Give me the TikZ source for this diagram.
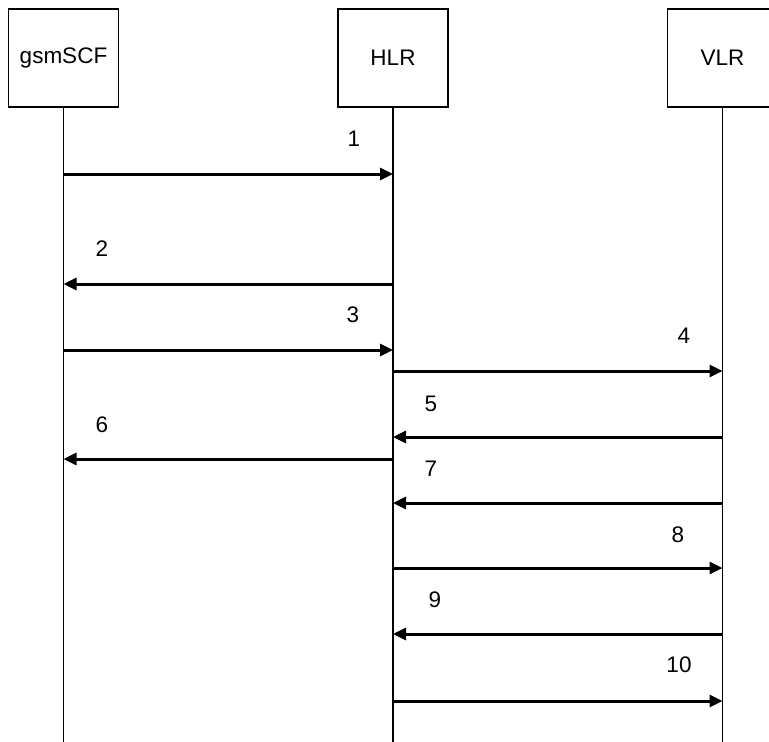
\documentclass[tikz,border=0pt]{standalone}
\usepackage{fontspec}
\setmainfont{Liberation Sans}
\usetikzlibrary{arrows.meta}
\begin{document}
\begin{tikzpicture}[x=1pt,y=-1pt,
  entity/.style={draw,line width=1.5pt,minimum width=110pt,minimum height=98pt,inner sep=0pt,font=\fontsize{22.5}{27}\selectfont},
  life/.style={line width=1.5pt},
  msg/.style={line width=3pt,-{Triangle[length=13pt,width=12pt]}},
  lbl/.style={font=\fontsize{22.5}{27}\selectfont,inner sep=0pt}]
\useasboundingbox (0,0) rectangle (769,742);
\node[entity] (gsm) at (63.5,58) {gsmSCF};
\node[entity] (hlr) at (393,58) {HLR};
\node[entity] (vlr) at (722.5,58) {VLR};
\coordinate (gsmE) at (63.5,742);
\coordinate (hlrE) at (393,742);
\coordinate (vlrE) at (722.5,742);
\draw[life] (gsm.south) -- (gsmE);
\draw[life] (hlr.south) -- (hlrE);
\draw[life] (vlr.south) -- (vlrE);
% message endpoints
\foreach \n/\y in {1/174,2/284,3/350,4/371,5/437,6/459,7/503,8/568,9/634,10/701}{
  \coordinate (g\n) at (63.5,\y);
  \coordinate (h\n) at (393,\y);
  \coordinate (v\n) at (722.5,\y);
}
\draw[msg] (g1) -- (h1);
\draw[msg] (h2) -- (g2);
\draw[msg] (g3) -- (h3);
\draw[msg] (h4) -- (v4);
\draw[msg] (v5) -- (h5);
\draw[msg] (h6) -- (g6);
\draw[msg] (v7) -- (h7);
\draw[msg] (h8) -- (v8);
\draw[msg] (v9) -- (h9);
\draw[msg] (h10) -- (v10);
\node[lbl] (l1) at (354,139) {1};
\node[lbl] (l2) at (102,249) {2};
\node[lbl] (l3) at (353,315) {3};
\node[lbl] (l4) at (684,336) {4};
\node[lbl] (l5) at (431,404) {5};
\node[lbl] (l6) at (102,425) {6};
\node[lbl] (l7) at (431,469) {7};
\node[lbl] (l8) at (678,535) {8};
\node[lbl] (l9) at (435,600) {9};
\node[lbl] (l10) at (679,665) {10};
\end{tikzpicture}
\end{document}
